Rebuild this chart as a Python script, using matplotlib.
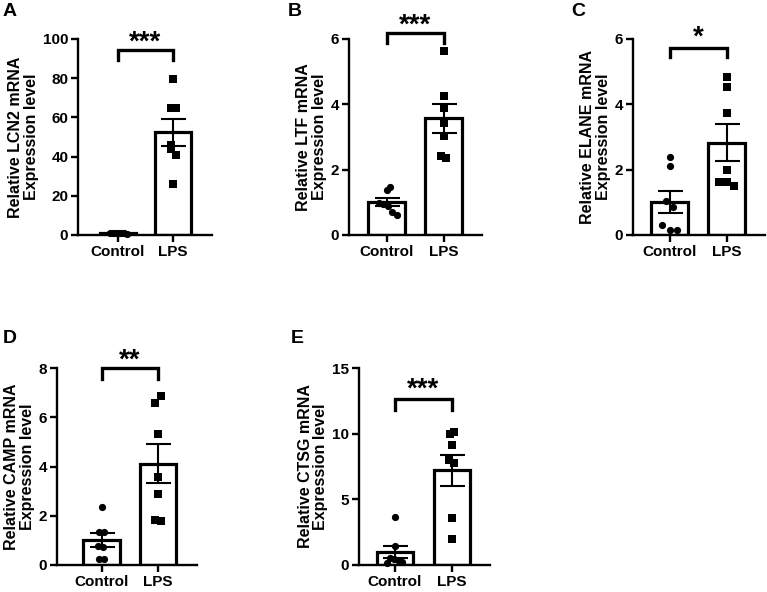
import numpy as np
import matplotlib
matplotlib.use("Agg")
import matplotlib.pyplot as plt

plt.rcParams['font.family'] = ['Liberation Sans', 'DejaVu Sans']
plt.rcParams['font.weight'] = 'bold'

groups = ['Control', 'LPS']

# values
lcn2_ctrl = [1.1, 1.0, 1.0, 1.1, 1.0, 1.2, 0.6]
lcn2_lps = [79.6, 65.0, 65.0, 46.0, 44.0, 41.0, 26.0]
ltf_ctrl = [1.38, 1.48, 0.97, 0.95, 0.90, 0.70, 0.62]
ltf_lps = [5.64, 4.27, 3.88, 3.42, 3.03, 2.42, 2.35]
elane_ctrl = [2.40, 2.12, 1.03, 0.86, 0.32, 0.16, 0.16]
elane_lps = [4.83, 4.52, 3.73, 2.00, 1.61, 1.61, 1.51]
camp_ctrl = [2.37, 1.33, 1.33, 0.79, 0.72, 0.23, 0.23]
camp_lps = [6.85, 6.58, 5.33, 3.59, 2.87, 1.83, 1.79]
ctsg_ctrl = [3.69, 1.45, 0.56, 0.45, 0.38, 0.25, 0.13]
ctsg_lps = [10.09, 9.97, 9.10, 8.00, 7.75, 3.56, 1.98]

genes = ['LCN2', 'LTF', 'ELANE', 'CAMP', 'CTSG']
letters = ['A', 'B', 'C', 'D', 'E']
stars = ['***', '***', '*', '**', '***']
ymax = [100, 6, 6, 8, 15]
ystep = [20, 2, 2, 2, 5]
brackets = [(94.5, 89.5), (6.19, 5.89), (5.73, 5.46), (8.0, 7.57), (12.66, 11.82)]
star_y = [100.5, 6.52, 6.18, 8.47, 13.65]

# jitter offsets for the dots (layout only)
jit_ctrl = [[-0.14, -0.09, -0.04, 0.01, 0.06, 0.11, 0.16],
            [0.0, 0.07, -0.13, -0.06, 0.02, 0.09, 0.18],
            [0.0, 0.0, -0.06, 0.06, -0.13, 0.0, 0.13],
            [0.0, -0.05, 0.05, -0.07, 0.03, -0.05, 0.05],
            [0.0, 0.0, -0.08, -0.01, 0.06, 0.12, -0.14]]
jit_lps = [[0.0, -0.03, 0.05, -0.03, -0.03, 0.05, 0.0],
           [0.0, 0.0, 0.0, 0.0, 0.0, -0.05, 0.05],
           [0.0, 0.0, 0.0, 0.0, -0.13, 0.0, 0.13],
           [0.05, -0.05, 0.0, 0.0, 0.0, -0.05, 0.05],
           [0.04, -0.04, 0.0, -0.05, 0.04, 0.0, 0.0]]

data = [(lcn2_ctrl, lcn2_lps), (ltf_ctrl, ltf_lps), (elane_ctrl, elane_lps),
        (camp_ctrl, camp_lps), (ctsg_ctrl, ctsg_lps)]

W, H = 767, 592
# axes boxes in pixels: left spine, right end, top, bottom, control bar centre, lps bar centre
boxes = [(78, 212, 39, 235, 118, 173),
         (349, 482, 39, 235, 386.5, 443.5),
         (633, 765, 39, 235, 669.5, 726.5),
         (57, 197, 368, 565, 101.5, 158),
         (359, 490, 368, 565, 395, 452)]
letter_pos = [(3, 3), (288, 3), (571, 3), (3, 330), (291, 330)]

fig = plt.figure(figsize=(W / 100, H / 100), dpi=100)

for i in range(5):
    l, r, t, b, c0, c1 = boxes[i]
    ax = fig.add_axes([l / W, 1 - b / H, (r - l) / W, (b - t) / H])
    sp = c1 - c0
    ax.set_xlim((l - c0) / sp, (r - c0) / sp)
    ax.set_ylim(0, ymax[i])
    ctrl, lps = data[i]
    for k, vals in enumerate([ctrl, lps]):
        vals = np.array(vals)
        m = vals.mean()
        sem = vals.std(ddof=1) / np.sqrt(len(vals))
        ax.bar(k, m, width=0.64, facecolor='white', edgecolor='black', linewidth=2.3, zorder=1)
        jit = jit_ctrl[i] if k == 0 else jit_lps[i]
        ax.scatter(k + np.array(jit), vals, s=27, c='black',
                   marker='o' if k == 0 else 's', zorder=3, linewidths=0, clip_on=False)
        ax.errorbar(k, m, yerr=sem, fmt='none', ecolor='black', elinewidth=1.5,
                    capsize=9, capthick=1.5, zorder=4)
    top, leg = brackets[i]
    ax.plot([0, 0, 1, 1], [leg, top, top, leg], color='black', lw=2.4, clip_on=False,
            solid_joinstyle='miter')
    fs = 20
    ax.annotate(stars[i], (0.5, star_y[i]), xytext=(0, -0.40 * fs), textcoords='offset points',
                ha='center', va='baseline', fontsize=fs, fontweight='bold', annotation_clip=False)
    ax.set_xticks([0, 1])
    ax.set_xticklabels(groups, fontsize=11, fontweight='bold')
    ax.set_yticks(np.arange(0, ymax[i] + 0.01, ystep[i]))
    ax.set_yticklabels([str(int(v)) for v in np.arange(0, ymax[i] + 0.01, ystep[i])],
                       fontsize=11, fontweight='bold')
    ax.set_ylabel('Relative %s mRNA\nExpression level' % genes[i], fontsize=11.5,
                  fontweight='bold', labelpad=3, linespacing=1.05)
    ax.spines['top'].set_visible(False)
    ax.spines['right'].set_visible(False)
    ax.spines['left'].set_linewidth(1.7)
    ax.spines['bottom'].set_linewidth(1.7)
    ax.tick_params(width=1.7, length=5, pad=2)
    lx, ly = letter_pos[i]
    fig.text(lx / W, 1 - ly / H, letters[i], ha='left', va='top', fontsize=14,
             fontweight='bold')

fig.savefig('out.png', dpi=100)
